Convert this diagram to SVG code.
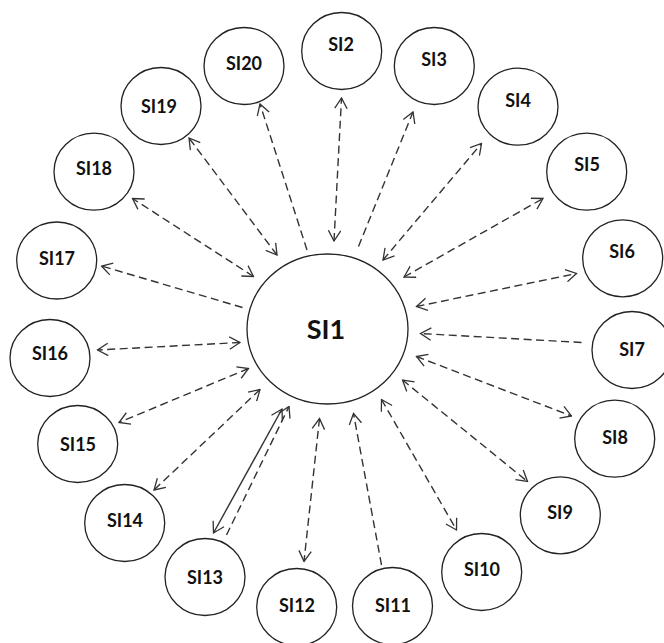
<svg xmlns="http://www.w3.org/2000/svg" width="664" height="643" viewBox="0 0 664 643">
<defs>
<marker id="ah" viewBox="0 0 12 14" refX="11" refY="7" markerWidth="12" markerHeight="14" markerUnits="userSpaceOnUse" orient="auto-start-reverse">
<path d="M0.5,0.8 L11,7 L0.5,13.2" fill="none" stroke="#333" stroke-width="1.3"/>
</marker>
</defs>
<style>
.n ellipse{fill:#fff;stroke:#222;stroke-width:1.3}
.n text{font-family:Lato,"Open Sans","Liberation Sans",sans-serif;font-weight:bold;font-size:18px;fill:#111;text-anchor:middle;dominant-baseline:central}
#SI1 text{font-size:27px}
.c line{stroke:#333;stroke-width:1.4;fill:none}
.d{stroke-dasharray:8,4.5}
.b{marker-start:url(#ah);marker-end:url(#ah)}
.e{marker-end:url(#ah)}
</style>
<rect width="664" height="643" fill="#fff"/>
<g id="connectors" class="c">
<line class="d b" x1="334" y1="241" x2="341.5" y2="98"/>
<line class="d e" x1="307" y1="250" x2="260" y2="104"/>
<line class="d e" x1="358.5" y1="246.5" x2="413" y2="112"/>
<line class="d b" x1="383" y1="260" x2="481.5" y2="143.5"/>
<line class="d b" x1="404" y1="277" x2="543" y2="198.5"/>
<line class="d b" x1="416.5" y1="306.5" x2="576.5" y2="273.5"/>
<line class="d e" x1="581.5" y1="342.5" x2="420.5" y2="333.5"/>
<line class="d b" x1="416.5" y1="356.5" x2="571.5" y2="416"/>
<line class="d b" x1="402.5" y1="380" x2="527.5" y2="481.5"/>
<line class="d b" x1="381.5" y1="399.5" x2="456.5" y2="530"/>
<line class="d e" x1="381.5" y1="565" x2="353.5" y2="413.5"/>
<line class="d b" x1="319.5" y1="418.5" x2="304" y2="561.5"/>
<line class="b" x1="282" y1="409" x2="213.5" y2="533"/>
<line class="d e" x1="226.5" y1="535" x2="289" y2="406.5"/>
<line class="d b" x1="260" y1="389.5" x2="154" y2="490"/>
<line class="d b" x1="248.5" y1="368.5" x2="119" y2="422.5"/>
<line class="d b" x1="240" y1="342.5" x2="97.5" y2="350"/>
<line class="d e" x1="242.5" y1="307.5" x2="101.5" y2="266"/>
<line class="d b" x1="253.5" y1="276.5" x2="132.5" y2="198.5"/>
<line class="d b" x1="277" y1="255" x2="189" y2="138"/>
</g>
<g id="SI1" class="n"><ellipse cx="327.5" cy="329" rx="80.5" ry="75"/><text x="326" y="328">SI1</text></g>
<g id="SI2" class="n"><ellipse cx="341.7" cy="51" rx="40" ry="38.5"/><text x="341" y="44">SI2</text></g>
<g id="SI3" class="n"><ellipse cx="434.3" cy="66" rx="40" ry="38.5"/><text x="434" y="59">SI3</text></g>
<g id="SI4" class="n"><ellipse cx="518" cy="106.7" rx="40" ry="38.5"/><text x="518" y="100">SI4</text></g>
<g id="SI5" class="n"><ellipse cx="586.7" cy="171.7" rx="40" ry="38.5"/><text x="587" y="164">SI5</text></g>
<g id="SI6" class="n"><ellipse cx="622.7" cy="258.3" rx="40" ry="38.5"/><text x="622" y="251">SI6</text></g>
<g id="SI7" class="n"><ellipse cx="632" cy="350" rx="40" ry="38.5"/><text x="632" y="349">SI7</text></g>
<g id="SI8" class="n"><ellipse cx="614.7" cy="438.7" rx="40" ry="38.5"/><text x="615" y="437">SI8</text></g>
<g id="SI9" class="n"><ellipse cx="560.3" cy="515.3" rx="40" ry="38.5"/><text x="560" y="512">SI9</text></g>
<g id="SI10" class="n"><ellipse cx="481.7" cy="572" rx="40" ry="38.5"/><text x="482" y="569">SI10</text></g>
<g id="SI11" class="n"><ellipse cx="392.5" cy="606" rx="40" ry="38.5"/><text x="393" y="605">SI11</text></g>
<g id="SI12" class="n"><ellipse cx="296.7" cy="607" rx="40" ry="38.5"/><text x="297" y="605">SI12</text></g>
<g id="SI13" class="n"><ellipse cx="205" cy="577" rx="40" ry="38.5"/><text x="205" y="577">SI13</text></g>
<g id="SI14" class="n"><ellipse cx="124.7" cy="523" rx="40" ry="38.5"/><text x="125" y="520">SI14</text></g>
<g id="SI15" class="n"><ellipse cx="77.7" cy="444" rx="40" ry="38.5"/><text x="78" y="444">SI15</text></g>
<g id="SI16" class="n"><ellipse cx="50" cy="358" rx="40" ry="38.5"/><text x="50" y="353">SI16</text></g>
<g id="SI17" class="n"><ellipse cx="56.7" cy="260.5" rx="40" ry="38.5"/><text x="57" y="258">SI17</text></g>
<g id="SI18" class="n"><ellipse cx="94" cy="171.7" rx="40" ry="38.5"/><text x="94" y="168">SI18</text></g>
<g id="SI19" class="n"><ellipse cx="161" cy="106" rx="40" ry="38.5"/><text x="159" y="106">SI19</text></g>
<g id="SI20" class="n"><ellipse cx="244" cy="66" rx="40" ry="38.5"/><text x="244" y="63">SI20</text></g>
</svg>
